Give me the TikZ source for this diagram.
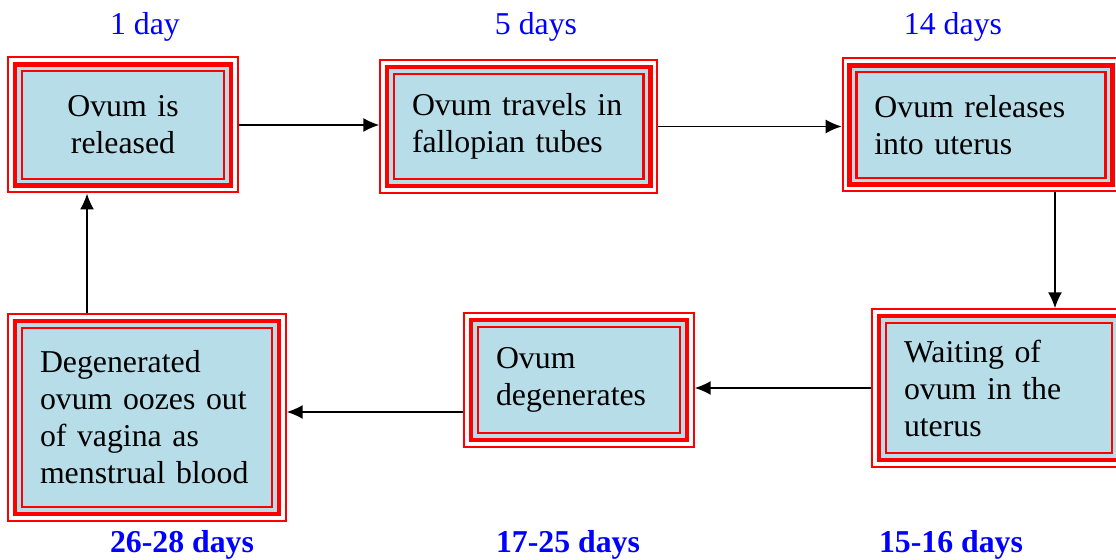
\documentclass[tikz,border=0pt]{standalone}
\usepackage{fontspec}
\setmainfont{Liberation Serif}
\usepackage{tikz}
\usetikzlibrary{arrows.meta,calc,positioning}
\definecolor{cyclered}{RGB}{255,0,0}
\definecolor{cycleblue}{RGB}{0,0,255}
\definecolor{softcyan}{RGB}{183,221,232}
\newcommand{\stagefont}{\fontsize{15.9pt}{18.5pt}\selectfont}
\tikzset{
  >={Latex[length=8pt,width=7pt]},
  flow/.style={->, line width=0.8pt, draw=black},
  stagebox/.style={
    preaction={draw=cyclered, line width=14.7pt},
    preaction={draw=white, line width=12.7pt},
    preaction={draw=cyclered, line width=9.4pt},
    preaction={draw=softcyan, line width=4.6pt},
    draw=cyclered,
    fill=softcyan,
    line width=1.2pt,
    outer sep=7.35pt,
    inner xsep=9pt,
    inner ysep=0pt,
    align=left,
    font=\stagefont
  },
  daylabel/.style={text=cycleblue, anchor=base, inner sep=0pt, font=\stagefont},
  boldlabel/.style={daylabel, font=\stagefont\bfseries}
}

\begin{document}
\begin{tikzpicture}[x=0.5pt, y=-0.5pt]
  \useasboundingbox (0,0) rectangle (1116,560);

  % top row
  \node[stagebox, align=center, text width=83pt, minimum height=53.8pt] (rel) at (123,125) {Ovum is\\released};
  \node[stagebox, text width=106.8pt, minimum height=52.5pt] (tube) at (518.8,126.5) {Ovum travels in\\fallopian tubes};
  \node[stagebox, text width=106.6pt, minimum height=52.8pt] (uter) at (981,125) {Ovum releases\\into uterus};

  % bottom row
  \node[stagebox, text width=95pt, minimum height=65pt] (wait) at (999,388) {Waiting of\\ovum in the\\uterus};
  \node[stagebox, text width=83pt, minimum height=53pt] (degen) at (579,380) {Ovum\\degenerates};
  \node[stagebox, text width=107pt, minimum height=89.5pt] (ooze) at (147,417.5) {Degenerated\\ovum oozes out\\of vagina as\\menstrual blood};

  \draw[flow] (rel.east) -- (rel.east -| tube.west);
  \draw[flow] (tube.east) -- (tube.east -| uter.west);
  \draw[flow] ([xshift=28pt]wait.north |- uter.south) -- ([xshift=28pt]wait.north);
  \draw[flow] (wait.west) -- (wait.west -| degen.east);
  \draw[flow] ([yshift=2.75pt]ooze.east -| degen.west) -- ([yshift=2.75pt]ooze.east);
  \draw[flow] ([xshift=-18pt]rel.south |- ooze.north) -- ([xshift=-18pt]rel.south);

  % day labels
  \node[daylabel] (dayone) at (145,35) {1 day};
  \node[daylabel] (dayfive) at (536,35) {5 days};
  \node[daylabel] (dayfourteen) at (953,35) {14 days};
  \node[boldlabel] (dayend) at (182,553) {26-28 days};
  \node[boldlabel] (daydegen) at (568,553) {17-25 days};
  \node[boldlabel] (daywait) at (951,553) {15-16 days};
\end{tikzpicture}
\end{document}
